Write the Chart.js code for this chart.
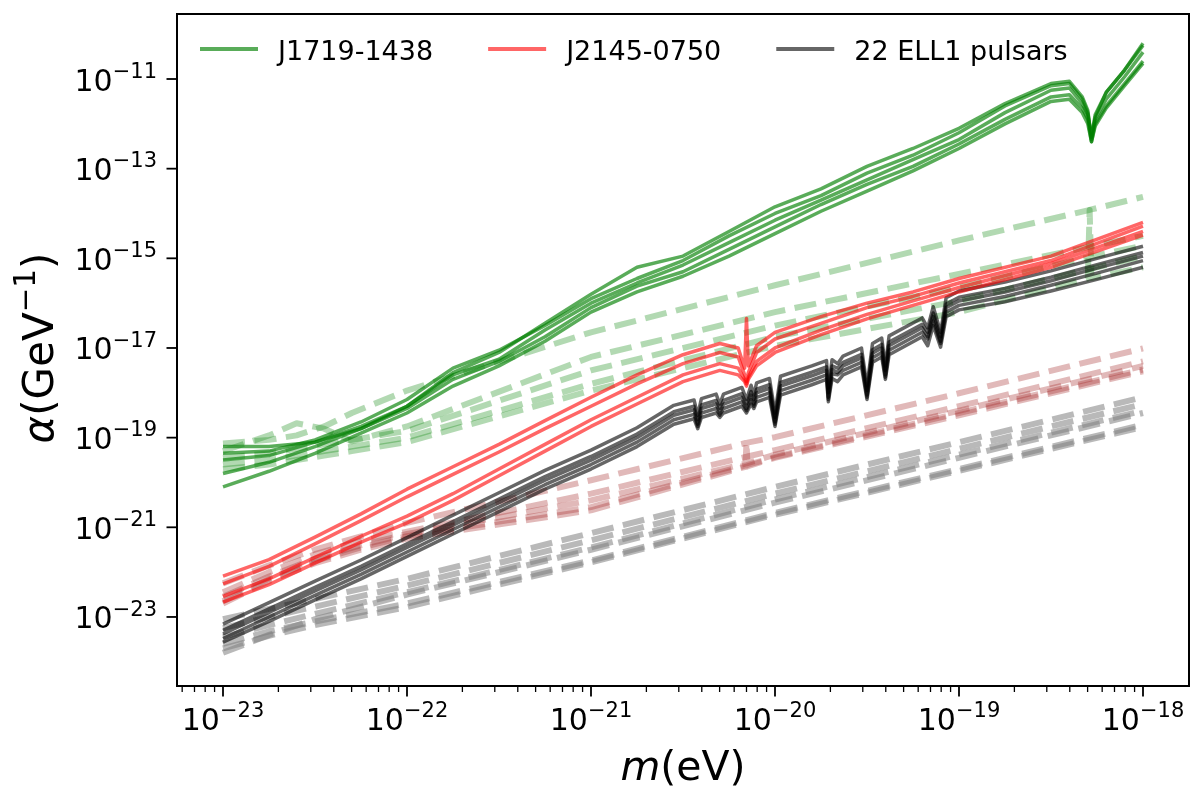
<!DOCTYPE html>
<html>
<head>
<meta charset="utf-8">
<script src="https://cdn.jsdelivr.net/npm/chart.js@4.4.0/dist/chart.umd.min.js"></script>
<style>
  html, body { margin: 0; padding: 0; background: #fff; }
  #wrap { width: 1200px; height: 793px; position: relative; }
</style>
</head>
<body>
<div id="wrap"><canvas id="alphaChart"></canvas></div>
<script>
// Values are log10 exponents: mass m (eV) and coupling alpha (GeV^-1)

// axis ticks and legend
const xTickExps = [-23, -22, -21, -20, -19, -18];
const yTickExps = [-23, -21, -19, -17, -15, -13, -11];
const legendLabels = ['J1719-1438', 'J2145-0750', '22 ELL1 pulsars'];

// J1719-1438, solid curves
const massGreenSolid = [-23, -22.75, -22.5, -22.25, -22, -21.75, -21.5, -21.25, -21, -20.75, -20.5, -20.25, -20, -19.75, -19.5, -19.25, -19, -18.75, -18.5, -18.4, -18.33, -18.3, -18.28, -18.26, -18.2, -18.1, -18];
const greenSolid = [
  [-19.2, -19.2, -19.1, -18.8, -18.3, -17.55, -17.1, -16.45, -15.8, -15.2, -14.95, -14.4, -13.85, -13.45, -12.95, -12.55, -12.1, -11.55, -11.1, -11.05, -11.4, -11.7, -12.35, -11.85, -11.3, -10.8, -10.25],
  [-19.35, -19.3, -19.05, -18.65, -18.15, -17.45, -17.05, -16.5, -15.9, -15.45, -15.05, -14.5, -14.0, -13.6, -13.1, -12.7, -12.2, -11.6, -11.15, -11.1, -11.45, -11.75, -12.3, -11.8, -11.3, -10.8, -10.2],
  [-19.5, -19.4, -19.1, -18.75, -18.3, -17.6, -17.25, -16.6, -16.0, -15.55, -15.15, -14.65, -14.15, -13.7, -13.25, -12.8, -12.35, -11.75, -11.25, -11.2, -11.55, -11.8, -12.3, -11.9, -11.45, -10.95, -10.4],
  [-19.8, -19.55, -19.2, -18.8, -18.35, -17.7, -17.3, -16.75, -16.1, -15.62, -15.3, -14.8, -14.3, -13.8, -13.35, -12.95, -12.45, -11.9, -11.4, -11.35, -11.65, -11.9, -12.4, -12.0, -11.6, -11.1, -10.6],
  [-20.1, -19.75, -19.35, -18.9, -18.45, -17.85, -17.4, -16.85, -16.2, -15.75, -15.4, -14.95, -14.45, -13.95, -13.5, -13.05, -12.55, -12.0, -11.5, -11.45, -11.75, -12.0, -12.4, -12.05, -11.65, -11.15, -10.65]
];

// J1719-1438, dashed curves
const massGreenDash = [-23, -22.75, -22.6, -22.45, -22.3, -22, -21, -20, -19, -18.3, -18.29, -18.28, -18];
const greenDash = [
  [-19.13, -19.05, -18.95, -18.75, -18.45, -17.95, -16.65, -15.6, -14.6, -13.93, -13.92, -13.91, -13.63],
  [-19.3, -18.95, -18.68, -18.8, -19.08, -18.75, -17.2, -16.2, -15.35, -14.75, -14.74, -14.73, -14.5],
  [-19.45, -19.35, -19.25, -19.15, -19.05, -18.85, -17.5, -16.5, -15.65, -14.98, -14.97, -14.96, -14.72],
  [-19.6, -19.5, -19.4, -19.3, -19.2, -19.0, -17.8, -16.75, -15.95, -15.25, -15.24, -15.23, -14.95],
  [-19.7, -19.6, -19.5, -19.4, -19.3, -19.1, -17.95, -16.95, -16.2, -15.45, -13.92, -15.44, -15.2]
];

// J2145-0750, solid curves
const massRedSolid = [-23, -22.75, -22.5, -22.25, -22, -21.75, -21.5, -21.25, -21, -20.75, -20.5, -20.3, -20.2, -20.165, -20.155, -20.145, -20.1, -20, -19.75, -19.5, -19.25, -19, -18.5, -18];
const redSolid = [
  [-22.09, -21.72, -21.22, -20.7, -20.15, -19.65, -19.15, -18.62, -18.1, -17.6, -17.15, -16.9, -17.0, -17.45, -16.34, -17.4, -16.95, -16.65, -16.3, -16.0, -15.75, -15.45, -14.95, -14.2],
  [-22.26, -21.87, -21.37, -20.85, -20.32, -19.82, -19.32, -18.8, -18.3, -17.8, -17.35, -17.1, -17.2, -17.6, -17.75, -17.55, -17.1, -16.8, -16.45, -16.1, -15.85, -15.55, -15.05, -14.28],
  [-22.54, -22.15, -21.67, -21.2, -20.75, -20.25, -19.7, -19.15, -18.6, -18.1, -17.6, -17.35, -17.45, -17.7, -17.8, -17.65, -17.3, -17.0, -16.6, -16.25, -15.95, -15.65, -15.12, -14.4],
  [-22.67, -22.28, -21.8, -21.33, -20.9, -20.4, -19.85, -19.3, -18.75, -18.25, -17.75, -17.5, -17.6, -17.75, -17.85, -17.7, -17.4, -17.1, -16.7, -16.35, -16.05, -15.75, -15.2, -14.48]
];

// J2145-0750, dashed curves
const massRedDash = [-23, -22.75, -22.5, -22.25, -22, -21, -20.16, -20.155, -20.15, -20, -19, -18];
const redDash = [
  [-22.25, -21.85, -21.5, -21.2, -20.9, -19.95, -19.12, -19.12, -19.11, -18.99, -18.01, -17.01],
  [-22.45, -22.0, -21.6, -21.3, -21.1, -20.25, -19.43, -19.43, -19.42, -19.28, -18.3, -17.3],
  [-22.55, -22.1, -21.7, -21.4, -21.15, -20.4, -19.58, -19.1, -19.57, -19.38, -18.4, -17.4],
  [-22.65, -22.15, -21.75, -21.45, -21.2, -20.55, -19.62, -19.62, -19.61, -19.43, -18.45, -17.48],
  [-22.7, -22.2, -21.8, -21.5, -21.25, -20.62, -19.65, -19.65, -19.64, -19.45, -18.5, -17.52]
];

// 22 ELL1 pulsars, solid curves
const massBlack = [-23, -22.75, -22.5, -22.25, -22, -21.75, -21.5, -21.25, -21, -20.75, -20.55, -20.44, -20.42, -20.4, -20.32, -20.3, -20.28, -20.18, -20.155, -20.13, -20.115, -20.1, -20.03, -20, -19.97, -19.8, -19.72, -19.71, -19.69, -19.66, -19.63, -19.53, -19.5, -19.47, -19.42, -19.4, -19.38, -19.2, -19.17, -19.14, -19.1, -19.07, -19, -18.75, -18.5, -18.25, -18];
const blackSolid = [
  [-23.16, -22.68, -22.2, -21.73, -21.23, -20.73, -20.23, -19.73, -19.28, -18.78, -18.28, -18.16, -18.5, -18.13, -18.03, -18.25, -18.03, -17.88, -18.15, -17.83, -18.05, -17.78, -17.68, -18.45, -17.63, -17.4, -17.28, -17.9, -17.26, -17.35, -17.18, -17.0, -17.85, -16.9, -16.78, -17.4, -16.73, -16.33, -16.55, -16.08, -16.65, -15.88, -15.73, -15.53, -15.28, -15.0, -14.73],
  [-23.3, -22.82, -22.34, -21.87, -21.37, -20.87, -20.37, -19.87, -19.42, -18.92, -18.42, -18.3, -18.6, -18.27, -18.17, -18.35, -18.17, -18.02, -18.25, -17.97, -18.15, -17.92, -17.82, -18.55, -17.77, -17.54, -17.42, -18.0, -17.4, -17.45, -17.32, -17.14, -17.95, -17.04, -16.92, -17.5, -16.87, -16.47, -16.65, -16.22, -16.75, -16.02, -15.87, -15.67, -15.42, -15.14, -14.87],
  [-23.38, -22.9, -22.42, -21.95, -21.45, -20.95, -20.45, -19.95, -19.5, -19.0, -18.5, -18.38, -18.7, -18.35, -18.25, -18.45, -18.25, -18.1, -18.35, -18.05, -18.25, -18.0, -17.9, -18.65, -17.85, -17.62, -17.5, -18.1, -17.48, -17.55, -17.4, -17.22, -18.05, -17.12, -17.0, -17.6, -16.95, -16.55, -16.75, -16.3, -16.85, -16.1, -15.95, -15.75, -15.5, -15.22, -14.95],
  [-23.48, -23.0, -22.52, -22.05, -21.55, -21.05, -20.55, -20.05, -19.6, -19.1, -18.6, -18.48, -18.75, -18.45, -18.35, -18.5, -18.35, -18.2, -18.4, -18.15, -18.3, -18.1, -18.0, -18.7, -17.95, -17.72, -17.6, -18.15, -17.58, -17.6, -17.5, -17.32, -18.1, -17.22, -17.1, -17.65, -17.05, -16.65, -16.8, -16.4, -16.9, -16.2, -16.05, -15.85, -15.6, -15.33, -15.05],
  [-23.56, -23.1, -22.62, -22.15, -21.65, -21.15, -20.65, -20.15, -19.7, -19.2, -18.7, -18.58, -18.8, -18.55, -18.45, -18.55, -18.45, -18.3, -18.45, -18.25, -18.35, -18.2, -18.1, -18.75, -18.05, -17.82, -17.7, -18.2, -17.68, -17.75, -17.6, -17.42, -18.15, -17.32, -17.2, -17.7, -17.15, -16.75, -16.95, -16.5, -16.98, -16.3, -16.15, -15.97, -15.73, -15.47, -15.2]
];

// 22 ELL1 pulsars, dashed curves
const massGrayDash = [-23, -22.75, -22.5, -22, -21, -20, -19, -18];
const grayDash = [
  [-23.05, -22.82, -22.6, -22.15, -21.13, -20.1, -19.1, -18.1],
  [-23.25, -23.0, -22.77, -22.3, -21.29, -20.25, -19.25, -18.25],
  [-23.45, -23.18, -22.93, -22.45, -21.45, -20.38, -19.38, -18.4],
  [-23.8, -23.4, -23.05, -22.5, -21.5, -20.45, -19.45, -18.45],
  [-23.6, -23.32, -23.1, -22.7, -21.74, -20.68, -19.7, -18.71],
  [-23.7, -23.42, -23.18, -22.78, -21.78, -20.72, -19.74, -18.76]
];

const FONT = '"DejaVu Sans", sans-serif';
const GREEN = 'rgba(0,128,0,0.65)';
const RED = 'rgba(255,0,0,0.6)';
const BLACK = 'rgba(0,0,0,0.6)';
const legendColors = [GREEN, RED, BLACK];

function toPoints(mass, vals) {
  return mass.map((m, i) => ({ x: Math.pow(10, m), y: Math.pow(10, vals[i]) }));
}

function curve(mass, vals, color, dashed) {
  return {
    data: toPoints(mass, vals),
    borderColor: color,
    borderWidth: dashed ? 6 : 3.5,
    borderDash: dashed ? [22, 9.6] : [],
    borderCapStyle: 'butt',
    borderJoinStyle: 'round',
    pointRadius: 0,
    tension: 0,
    fill: false
  };
}

const datasets = [];
greenSolid.forEach(v => datasets.push(curve(massGreenSolid, v, GREEN, false)));
redSolid.forEach(v => datasets.push(curve(massRedSolid, v, RED, false)));
blackSolid.forEach(v => datasets.push(curve(massBlack, v, BLACK, false)));
greenDash.forEach(v => datasets.push(curve(massGreenDash, v, 'rgba(0,128,0,0.3)', true)));
redDash.forEach(v => datasets.push(curve(massRedDash, v, 'rgba(165,42,42,0.33)', true)));
grayDash.forEach(v => datasets.push(curve(massGrayDash, v, 'rgba(128,128,128,0.55)', true)));

// draws "10" with a raised exponent, like matplotlib's mathtext labels
function drawPower(ctx, exp, x, y, size, align) {
  const sup = size * 0.7;
  const expText = '\u2212' + Math.abs(exp);
  ctx.font = size + 'px ' + FONT;
  const w1 = ctx.measureText('10').width;
  ctx.font = sup + 'px ' + FONT;
  const w2 = ctx.measureText(expText).width;
  const x0 = align === 'right' ? x - w1 - w2 : x - (w1 + w2) / 2;
  ctx.textAlign = 'left';
  ctx.textBaseline = 'alphabetic';
  ctx.font = size + 'px ' + FONT;
  ctx.fillText('10', x0, y);
  ctx.font = sup + 'px ' + FONT;
  ctx.fillText(expText, x0 + w1, y - size * 0.43);
}

const axisDecor = {
  id: 'axisDecor',
  afterDraw(chart) {
    const ctx = chart.ctx;
    const area = chart.chartArea;
    const xs = chart.scales.x;
    const ys = chart.scales.y;
    ctx.save();
    ctx.fillStyle = '#000';
    ctx.strokeStyle = '#000';

    // x ticks: majors at decades, minors at 2..9
    for (let e = -24; e <= -18; e++) {
      for (let k = 1; k <= 9; k++) {
        const v = k * Math.pow(10, e);
        if (v < xs.min || v > xs.max) continue;
        const px = xs.getPixelForValue(v);
        ctx.lineWidth = k === 1 ? 1.8 : 1.3;
        ctx.beginPath();
        ctx.moveTo(px, area.bottom);
        ctx.lineTo(px, area.bottom + (k === 1 ? 10.5 : 6));
        ctx.stroke();
      }
    }
    xTickExps.forEach(e => {
      drawPower(ctx, e, xs.getPixelForValue(Math.pow(10, e)), 730, 30, 'center');
    });

    // y ticks
    ctx.lineWidth = 1.8;
    yTickExps.forEach(e => {
      const py = ys.getPixelForValue(Math.pow(10, e));
      ctx.beginPath();
      ctx.moveTo(area.left - 10.5, py);
      ctx.lineTo(area.left, py);
      ctx.stroke();
      drawPower(ctx, e, area.left - 20, py + 11.5, 30, 'right');
    });

    // frame
    ctx.lineWidth = 2;
    ctx.strokeRect(area.left, area.top, area.right - area.left, area.bottom - area.top);

    // x axis label: m(eV)
    ctx.textBaseline = 'alphabetic';
    ctx.textAlign = 'left';
    ctx.font = 'italic 41px ' + FONT;
    const wm = ctx.measureText('m').width;
    ctx.font = '41px ' + FONT;
    const we = ctx.measureText('(eV)').width;
    const xl = (area.left + area.right) / 2 - (wm + we) / 2;
    ctx.font = 'italic 41px ' + FONT;
    ctx.fillText('m', xl, 780);
    ctx.font = '41px ' + FONT;
    ctx.fillText('(eV)', xl + wm, 780);

    // y axis label: alpha(GeV^-1), rotated
    ctx.save();
    ctx.translate(53, (area.top + area.bottom) / 2 - 2);
    ctx.rotate(-Math.PI / 2);
    const parts = [
      { t: '\u03b1', f: 'italic 42px ' + FONT, dy: 0 },
      { t: '(GeV', f: '42px ' + FONT, dy: 0 },
      { t: '\u22121', f: '29.4px ' + FONT, dy: -18 },
      { t: ')', f: '42px ' + FONT, dy: 0 }
    ];
    let total = 0;
    parts.forEach(p => { ctx.font = p.f; p.w = ctx.measureText(p.t).width; total += p.w; });
    let cx = -total / 2;
    parts.forEach(p => { ctx.font = p.f; ctx.fillText(p.t, cx, p.dy); cx += p.w; });
    ctx.restore();

    // legend, one row across the top of the plot
    let lx = area.left + 23;
    const ly = 49;
    ctx.font = '27px ' + FONT;
    legendLabels.forEach((label, i) => {
      ctx.strokeStyle = legendColors[i];
      ctx.lineWidth = 4;
      ctx.beginPath();
      ctx.moveTo(lx, ly);
      ctx.lineTo(lx + 58, ly);
      ctx.stroke();
      ctx.fillStyle = '#000';
      ctx.fillText(label, lx + 78, 60);
      lx += 78 + ctx.measureText(label).width + 55;
    });
    ctx.restore();
  }
};

new Chart(document.getElementById('alphaChart'), {
  type: 'line',
  data: { datasets: datasets },
  options: {
    responsive: true,
    maintainAspectRatio: false,
    animation: false,
    layout: { padding: { top: 14, right: 11, left: 0, bottom: 0 } },
    plugins: {
      legend: { display: false },
      tooltip: { enabled: false }
    },
    scales: {
      x: {
        type: 'logarithmic',
        min: Math.pow(10, -23.25),
        max: Math.pow(10, -17.75),
        grid: { display: false },
        border: { display: false },
        ticks: { display: false },
        afterFit: function(scale) { scale.height = 107; }
      },
      y: {
        type: 'logarithmic',
        min: Math.pow(10, -24.54),
        max: Math.pow(10, -9.55),
        grid: { display: false },
        border: { display: false },
        ticks: { display: false },
        afterFit: function(scale) { scale.width = 177; }
      }
    }
  },
  plugins: [axisDecor]
});
</script>
</body>
</html>
